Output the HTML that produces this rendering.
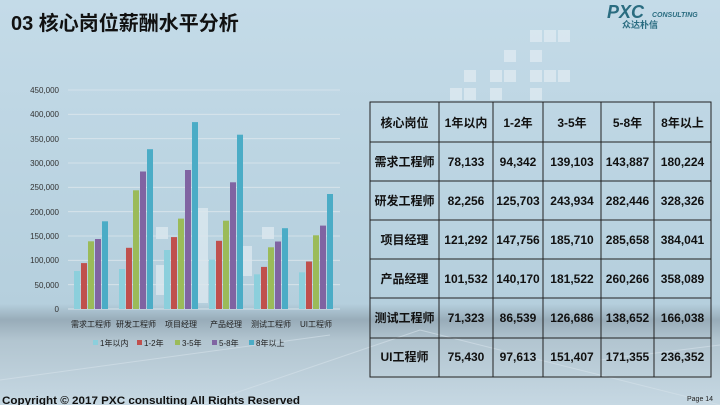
<!DOCTYPE html>
<html><head><meta charset="utf-8"><style>
html,body{margin:0;padding:0;width:720px;height:405px;overflow:hidden}
svg{display:block}
text{font-family:"Liberation Sans","Noto Sans CJK SC",sans-serif}
</style></head><body>
<svg width="720" height="405" viewBox="0 0 720 405" xmlns="http://www.w3.org/2000/svg">
<defs>
<linearGradient id="bg" x1="0" y1="0" x2="0" y2="1">
<stop offset="0" stop-color="#c4dbe8"/>
<stop offset="0.75" stop-color="#b5cfdd"/>
<stop offset="0.79" stop-color="#98acb9"/>
<stop offset="0.84" stop-color="#b2c5d0"/>
<stop offset="1" stop-color="#c6d8e3"/>
</linearGradient>
</defs>
<rect width="720" height="405" fill="url(#bg)"/>
<g stroke="#d6e2ea" stroke-width="1" opacity="0.6">
<line x1="0" y1="380" x2="330" y2="335"/><line x1="200" y1="405" x2="420" y2="330"/>
<line x1="420" y1="330" x2="720" y2="405"/><line x1="600" y1="360" x2="720" y2="345"/>
</g>
<g fill="#e8f0f5" opacity="0.6">
<rect x="530" y="30" width="12" height="12"/><rect x="544" y="30" width="12" height="12"/><rect x="558" y="30" width="12" height="12"/>
<rect x="504" y="50" width="12" height="12"/><rect x="530" y="50" width="12" height="12"/>
<rect x="530" y="70" width="12" height="12"/><rect x="544" y="70" width="12" height="12"/><rect x="558" y="70" width="12" height="12"/>
<rect x="464" y="70" width="12" height="12"/><rect x="490" y="70" width="12" height="12"/><rect x="504" y="70" width="12" height="12"/>
<rect x="450" y="88" width="12" height="12"/><rect x="464" y="88" width="12" height="12"/><rect x="490" y="88" width="12" height="12"/><rect x="530" y="88" width="12" height="12"/>
<rect x="198" y="208" width="10" height="95"/><rect x="156" y="227" width="12" height="12"/><rect x="156" y="265" width="12" height="30"/>
<rect x="240" y="246" width="12" height="30"/><rect x="262" y="227" width="12" height="12"/>
</g>
<text x="11" y="30" font-size="20" font-weight="bold" fill="#111">03 核心岗位薪酬水平分析</text>
<text x="607" y="18" font-family="Liberation Serif,serif" font-size="18" font-style="italic" font-weight="bold" fill="#2a6c80">PXC</text>
<text x="652" y="17" font-family="Liberation Serif,serif" font-size="7" font-style="italic" font-weight="bold" fill="#2a6c80">CONSULTING</text>
<text x="622" y="28" font-size="9" fill="#2a6c80" font-weight="bold">众达朴信</text>
<g stroke="#dbe6ec" stroke-width="0.8">
<line x1="68" y1="90" x2="340" y2="90"/><line x1="68" y1="114.3" x2="340" y2="114.3"/><line x1="68" y1="138.7" x2="340" y2="138.7"/>
<line x1="68" y1="163" x2="340" y2="163"/><line x1="68" y1="187.3" x2="340" y2="187.3"/><line x1="68" y1="211.7" x2="340" y2="211.7"/>
<line x1="68" y1="236" x2="340" y2="236"/><line x1="68" y1="260.3" x2="340" y2="260.3"/><line x1="68" y1="284.7" x2="340" y2="284.7"/>
<line x1="68" y1="309" x2="340" y2="309" stroke="#e6eef2"/>
</g>
<g font-size="8" fill="#333" text-anchor="end">
<text x="59" y="93">450,000</text><text x="59" y="117">400,000</text><text x="59" y="142">350,000</text>
<text x="59" y="166">300,000</text><text x="59" y="190">250,000</text><text x="59" y="215">200,000</text>
<text x="59" y="239">150,000</text><text x="59" y="263">100,000</text><text x="59" y="288">50,000</text><text x="59" y="312">0</text>
</g>
<g>
<rect x="74" y="271" width="6" height="38" fill="#8ccfdc"/><rect x="81" y="263.1" width="6" height="45.9" fill="#c0504d"/><rect x="88" y="241.3" width="6" height="67.7" fill="#9bbb59"/><rect x="95" y="239" width="6" height="70" fill="#8064a2"/><rect x="102" y="221.3" width="6" height="87.7" fill="#4bacc6"/>
<rect x="119" y="269" width="6" height="40" fill="#8ccfdc"/><rect x="126" y="247.8" width="6" height="61.2" fill="#c0504d"/><rect x="133" y="190.3" width="6" height="118.7" fill="#9bbb59"/><rect x="140" y="171.5" width="6" height="137.5" fill="#8064a2"/><rect x="147" y="149.2" width="6" height="159.8" fill="#4bacc6"/>
<rect x="164" y="250" width="6" height="59" fill="#8ccfdc"/><rect x="171" y="237.1" width="6" height="71.9" fill="#c0504d"/><rect x="178" y="218.6" width="6" height="90.4" fill="#9bbb59"/><rect x="185" y="170" width="6" height="139" fill="#8064a2"/><rect x="192" y="122.1" width="6" height="186.9" fill="#4bacc6"/>
<rect x="209" y="259.6" width="6" height="49.4" fill="#8ccfdc"/><rect x="216" y="240.8" width="6" height="68.2" fill="#c0504d"/><rect x="223" y="220.7" width="6" height="88.3" fill="#9bbb59"/><rect x="230" y="182.3" width="6" height="126.7" fill="#8064a2"/><rect x="237" y="134.7" width="6" height="174.3" fill="#4bacc6"/>
<rect x="254" y="274.3" width="6" height="34.7" fill="#8ccfdc"/><rect x="261" y="266.9" width="6" height="42.1" fill="#c0504d"/><rect x="268" y="247.3" width="6" height="61.7" fill="#9bbb59"/><rect x="275" y="241.5" width="6" height="67.5" fill="#8064a2"/><rect x="282" y="228.2" width="6" height="80.8" fill="#4bacc6"/>
<rect x="299" y="272.3" width="6" height="36.7" fill="#8ccfdc"/><rect x="306" y="261.5" width="6" height="47.5" fill="#c0504d"/><rect x="313" y="235.3" width="6" height="73.7" fill="#9bbb59"/><rect x="320" y="225.6" width="6" height="83.4" fill="#8064a2"/><rect x="327" y="194" width="6" height="115" fill="#4bacc6"/>
</g>
<g font-size="8" fill="#222" text-anchor="middle">
<text x="91" y="327">需求工程师</text><text x="136" y="327">研发工程师</text><text x="181" y="327">项目经理</text>
<text x="226" y="327">产品经理</text><text x="271" y="327">测试工程师</text><text x="316" y="327">UI工程师</text>
</g>
<g font-size="8" fill="#222">
<rect x="93" y="340" width="5" height="5" fill="#8ccfdc"/><text x="100" y="346">1年以内</text>
<rect x="137" y="340" width="5" height="5" fill="#c0504d"/><text x="144" y="346">1-2年</text>
<rect x="175" y="340" width="5" height="5" fill="#9bbb59"/><text x="182" y="346">3-5年</text>
<rect x="212" y="340" width="5" height="5" fill="#8064a2"/><text x="219" y="346">5-8年</text>
<rect x="249" y="340" width="5" height="5" fill="#4bacc6"/><text x="256" y="346">8年以上</text>
</g>
<g stroke="#222" stroke-width="1" fill="none">
<rect x="370" y="102" width="341" height="275"/>
<line x1="439" y1="102" x2="439" y2="377"/><line x1="493" y1="102" x2="493" y2="377"/><line x1="543" y1="102" x2="543" y2="377"/>
<line x1="601" y1="102" x2="601" y2="377"/><line x1="654" y1="102" x2="654" y2="377"/>
<line x1="370" y1="142" x2="711" y2="142"/><line x1="370" y1="181" x2="711" y2="181"/><line x1="370" y1="220" x2="711" y2="220"/>
<line x1="370" y1="259" x2="711" y2="259"/><line x1="370" y1="298" x2="711" y2="298"/><line x1="370" y1="338" x2="711" y2="338"/>
</g>
<g font-size="12" font-weight="bold" fill="#111" text-anchor="middle">
<text x="404.5" y="127">核心岗位</text><text x="466" y="127">1年以内</text><text x="518" y="127">1-2年</text><text x="572" y="127">3-5年</text><text x="627.5" y="127">5-8年</text><text x="682.5" y="127">8年以上</text>
<text x="404.5" y="166">需求工程师</text><text x="466" y="166">78,133</text><text x="518" y="166">94,342</text><text x="572" y="166">139,103</text><text x="627.5" y="166">143,887</text><text x="682.5" y="166">180,224</text>
<text x="404.5" y="205">研发工程师</text><text x="466" y="205">82,256</text><text x="518" y="205">125,703</text><text x="572" y="205">243,934</text><text x="627.5" y="205">282,446</text><text x="682.5" y="205">328,326</text>
<text x="404.5" y="244">项目经理</text><text x="466" y="244">121,292</text><text x="518" y="244">147,756</text><text x="572" y="244">185,710</text><text x="627.5" y="244">285,658</text><text x="682.5" y="244">384,041</text>
<text x="404.5" y="283">产品经理</text><text x="466" y="283">101,532</text><text x="518" y="283">140,170</text><text x="572" y="283">181,522</text><text x="627.5" y="283">260,266</text><text x="682.5" y="283">358,089</text>
<text x="404.5" y="322">测试工程师</text><text x="466" y="322">71,323</text><text x="518" y="322">86,539</text><text x="572" y="322">126,686</text><text x="627.5" y="322">138,652</text><text x="682.5" y="322">166,038</text>
<text x="404.5" y="361">UI工程师</text><text x="466" y="361">75,430</text><text x="518" y="361">97,613</text><text x="572" y="361">151,407</text><text x="627.5" y="361">171,355</text><text x="682.5" y="361">236,352</text>
</g>
<text x="2" y="404" font-size="11" font-weight="bold" fill="#111" textLength="298" lengthAdjust="spacingAndGlyphs">Copyright © 2017 PXC consulting All Rights Reserved</text>
<text x="687" y="401" font-size="7" fill="#222">Page 14</text>
</svg>
</body></html>
